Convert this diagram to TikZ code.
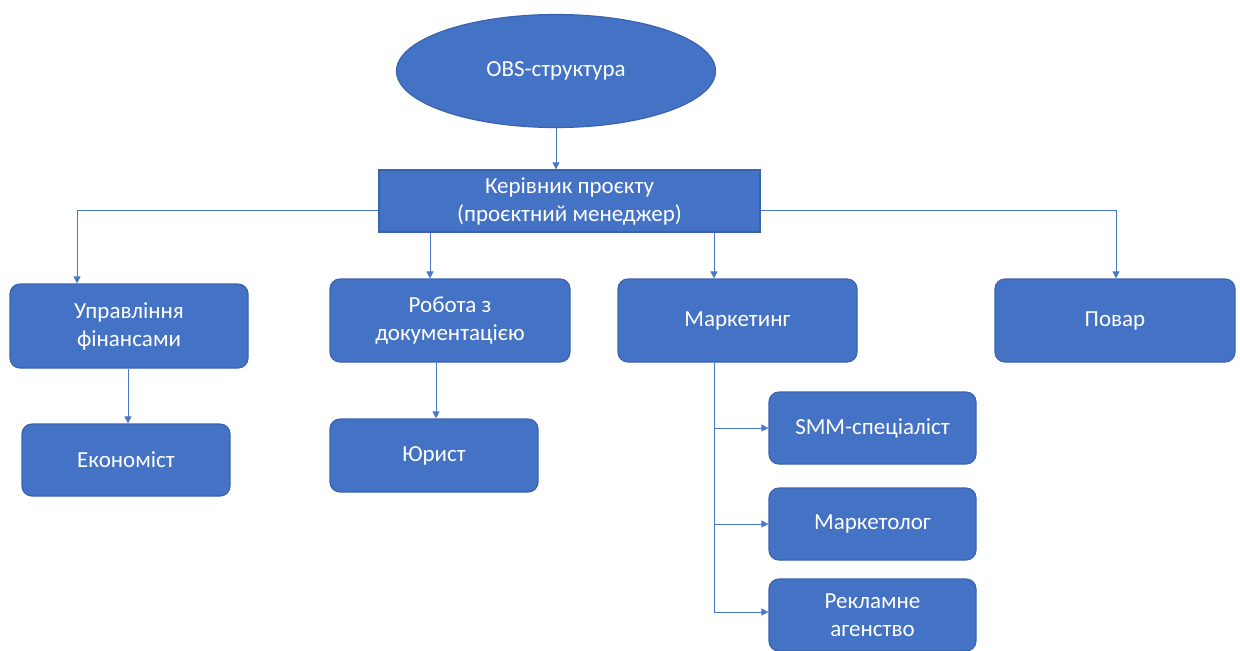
\documentclass[tikz,border=0pt]{standalone}
\usepackage{fontspec}
\setmainfont{Carlito}
\usetikzlibrary{shapes.geometric,arrows.meta}
\definecolor{boxfill}{HTML}{4472C4}
\definecolor{boxedge}{HTML}{3A63AD}
\definecolor{linkc}{HTML}{4A78C8}
\tikzset{
  box/.style={draw=boxedge, line width=0.6pt, fill=boxfill, text=white, rounded corners=5pt,
    align=center, font=\fontsize{11.5}{14}\selectfont, inner sep=0pt},
  sqbox/.style={box, rounded corners=0pt},
  link/.style={draw=linkc, line width=0.5pt, -{Triangle[length=3.5pt,width=3.5pt]}},
  plain/.style={draw=linkc, line width=0.5pt}
}
\begin{document}
\begin{tikzpicture}[x=0.5pt,y=-0.5pt]
\useasboundingbox (0,0) rectangle (1240,650);
\node[ellipse, draw=boxedge, line width=0.6pt, fill=boxfill, text=white, font=\fontsize{11.5}{14}\selectfont,
  minimum width=159.5pt, minimum height=56.5pt, inner sep=0pt] (obs) at (556,71) {OBS-структура};
\node[sqbox, minimum width=190.5pt, minimum height=31pt] (pm) at (569.5,201) {Керівник проєкту\\(проєктний менеджер)};
\node[box, minimum width=119pt, minimum height=42pt] (fin) at (129,326) {Управління\\фінансами};
\node[box, minimum width=120pt, minimum height=41.5pt] (doc) at (450,320.5) {Робота з\\документацією};
\node[box, minimum width=119.5pt, minimum height=41.5pt] (mkt) at (737.5,320.5) {Маркетинг};
\node[box, minimum width=120pt, minimum height=41.5pt] (cook) at (1115,320.5) {Повар};
\node[box, minimum width=104pt, minimum height=36pt] (eco) at (126,460) {Економіст};
\node[box, minimum width=104pt, minimum height=36.5pt] (law) at (434,455.5) {Юрист};
\node[box, minimum width=103.5pt, minimum height=36pt] (smm) at (872.5,428) {SMM-спеціаліст};
\node[box, minimum width=103.5pt, minimum height=36pt] (mktg) at (872.5,524) {Маркетолог};
\node[box, minimum width=103.5pt, minimum height=36pt] (adv) at (872.5,615) {Рекламне\\агенство};

\draw[link] (obs.south) -- (pm.north -| obs.south);
\draw[link] (pm.west |- 0,210) -| (fin.north -| 77,0);
\draw[link] (pm.east |- 0,210) -| (cook.north -| 1116,0);
\draw[link] (pm.south -| 430,0) -- (doc.north -| 430,0);
\draw[link] (pm.south -| 714,0) -- (mkt.north -| 714,0);
\draw[link] (fin.south -| 128,0) -- (eco.north -| 128,0);
\draw[link] (doc.south -| 436,0) -- (law.north -| 436,0);
\coordinate (mb) at (714,612);
\draw[plain] (mkt.south -| mb) -- (mb);
\draw[link] (mb |- smm.west) -- (smm.west);
\draw[link] (mb |- mktg.west) -- (mktg.west);
\draw[link] (mb) -- (adv.west |- mb);
\end{tikzpicture}
\end{document}
